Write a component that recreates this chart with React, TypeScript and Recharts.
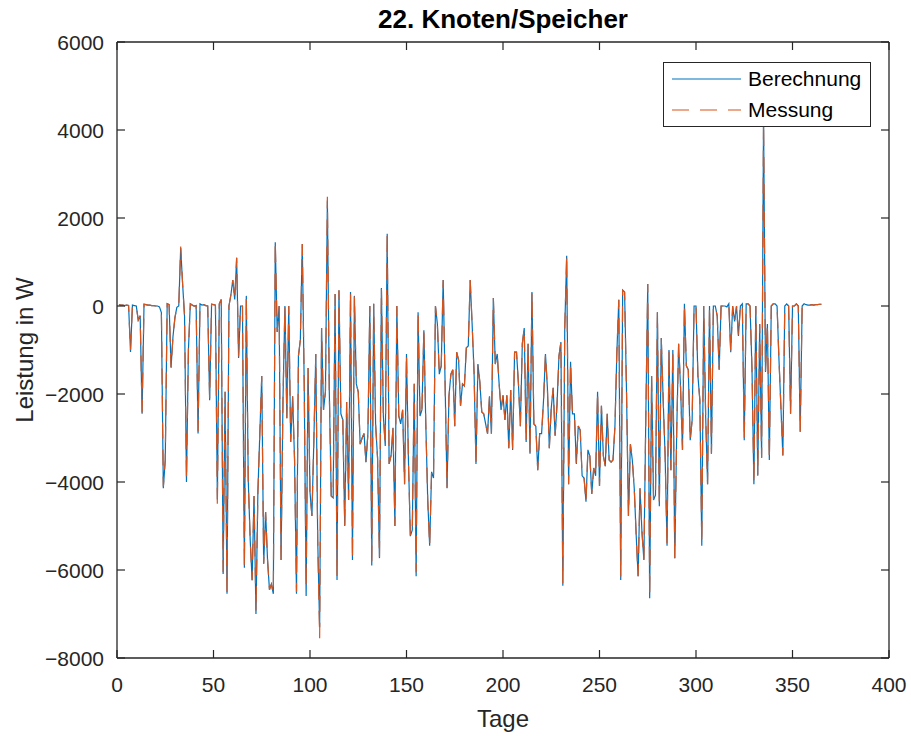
import React from 'react';
import { LineChart, Line, XAxis, YAxis } from 'recharts';

if (typeof document !== 'undefined') document.body.style.margin = '0';

const xTicks = [0, 50, 100, 150, 200, 250, 300, 350, 400];
const yTicks = [-8000, -6000, -4000, -2000, 0, 2000, 4000, 6000];

// Tag 1 .. 365
const berechnung = [
  30, 20, 20, 10, 20, 10, -1045, 20, 10, 0,
  -320, -220, -2450, 40, 30, 20, 20, 10, 10, 0,
  0, -20, -150, -4140, -3500, 50, 30, -1400, -700, -270,
  -30, 0, 1320, 500, -230, -4000, -1000, 50, 20, 0,
  10, -2900, 50, 20, 30, 10, 0, -2140, 40, 30,
  20, -4400, 50, 150, -6090, -1950, -6540, 0, 250, 590,
  150, 1090, -1180, 0, 0, -5950, 230, -3950, -5300, -6230,
  -4320, -7000, -4230, -2900, -1590, -5860, -4680, -5770, -6450, -6320,
  -6540, 1450, -590, 0, -5770, -2140, 0, -2550, 0, -3090,
  -2050, -3500, -6540, -1140, -770, 1410, -1770, -6590, -1410, -4230,
  -4770, -3050, -1090, -5320, -7300, -500, -2360, -1950, 2400, -1950,
  -4320, -4360, 270, -6230, 360, -2450, -2590, -5000, -2180, -4410,
  320, -5770, 230, -1770, -1950, -3140, -3000, -2900, -3550, -2900,
  0, -5900, 50, -2700, -3450, -5730, 410, -2500, -3180, 1640,
  -3590, -3400, -2770, -5000, 0, -2500, -2680, -2360, -4050, -1090,
  -3500, -5230, -5090, -1770, -6140, -140, -2500, -2360, -550, -2680,
  -4410, -5450, -3770, -3910, 0, -410, -1550, -1360, 590, -1770,
  -4140, -2050, -1550, -1450, -2730, -1050, -1230, -2270, -1770, -1820,
  -950, -910, 590, -410, -1500, -3590, -1320, -1730, -2410, -2450,
  -2680, -2900, -2050, -2900, 180, -1320, -1090, -1770, -2360, -2030,
  -2590, -2030, -3230, -1910, -3270, -1050, -1050, -1770, -2730, -860,
  -500, -3090, -860, -3360, 320, -2680, -2730, -3730, -2900, -2900,
  -2140, -1090, -1860, -3230, -2320, -1860, -2950, -2230, -1140, -820,
  -6360, -500, 1140, -4050, -1270, -2450, -2450, -3590, -2730, -2820,
  -3860, -3910, -4450, -3270, -3410, -4270, -3680, -3860, -1950, -4090,
  -2270, -3410, -3640, -2450, -3500, -3550, -3500, -2730, -1050, 140,
  -6230, 360, 320, -1950, -4770, -3140, -3500, -4140, -5200, -6140,
  -4140, -5140, -5770, -2500, 500, -6640, -1590, -4410, -4300, -140,
  -4550, -730, -2140, -3400, -5450, -1000, -3730, -1000, -5730, -2860,
  -860, -1860, -3270, 50, -1360, -1450, -3050, -2590, 0, 0,
  -1590, -2140, -5450, 0, -2500, -4050, 0, -3360, 0, 0,
  -230, -1450, 0, 0, 0, -20, 50, -1050, 0, -350,
  0, -680, 0, 50, -3050, 50, 50, 0, -1410, -4050,
  0, -3860, -410, -3450, 4300, -1500, -410, -3500, 0, 50,
  50, 0, -1230, -2300, -3400, 0, 50, 0, -2450, 0,
  0, 50, 0, -2860, 0, 50, 30, 20, 20, 30,
  20, 30, 30, 40, 40,
];

const messung = [
  30, 20, 20, 10, 20, 10, -1000, 20, 10, 0,
  -320, -220, -2420, 40, 30, 20, 20, 10, 10, 0,
  0, -20, -150, -4100, -3500, 50, 30, -1400, -700, -270,
  -30, 0, 1350, 500, -230, -3950, -1000, 50, 20, 0,
  10, -2850, 50, 20, 30, 10, 0, -2100, 40, 30,
  20, -4550, 50, 150, -6050, -1950, -6500, 0, 250, 590,
  150, 1100, -1150, 0, 0, -5930, 230, -3950, -5300, -6230,
  -4320, -6950, -4230, -2900, -1590, -5860, -4680, -5770, -6450, -6320,
  -6540, 1480, -590, 0, -5770, -2140, 0, -2550, 0, -3090,
  -2050, -3500, -6500, -1140, -770, 1410, -1770, -6400, -1410, -4230,
  -4770, -3050, -1090, -5320, -7550, -500, -2360, -1950, 2480, -1950,
  -4320, -4360, 270, -6150, 360, -2450, -2590, -5000, -2180, -4410,
  320, -5770, 230, -1770, -1950, -3140, -3000, -2900, -3550, -2900,
  0, -5850, 50, -2700, -3450, -5730, 410, -2500, -3180, 1660,
  -3590, -3400, -2770, -5000, 0, -2500, -2680, -2360, -4050, -1090,
  -3500, -5230, -5090, -1770, -6050, -140, -2500, -2360, -550, -2680,
  -4410, -5450, -3770, -3910, 0, -410, -1550, -1360, 590, -1770,
  -4140, -2050, -1550, -1450, -2730, -1050, -1230, -2270, -1770, -1820,
  -950, -910, 590, -410, -1500, -3590, -1320, -1730, -2410, -2450,
  -2680, -2900, -2050, -2900, 180, -1320, -1090, -1770, -2360, -2030,
  -2590, -2030, -3230, -1910, -3270, -1050, -1050, -1770, -2730, -860,
  -500, -3090, -860, -3360, 320, -2680, -2730, -3730, -2900, -2900,
  -2140, -1090, -1860, -3230, -2320, -1860, -2950, -2230, -1140, -820,
  -6300, -500, 1170, -4050, -1270, -2450, -2450, -3590, -2730, -2820,
  -3860, -3910, -4450, -3270, -3410, -4270, -3680, -3860, -1950, -4090,
  -2270, -3410, -3640, -2450, -3500, -3550, -3500, -2730, -1050, 140,
  -6150, 360, 320, -1950, -4770, -3140, -3500, -4140, -5200, -6140,
  -4140, -5140, -5770, -2500, 500, -6600, -1590, -4410, -4300, -140,
  -4550, -730, -2140, -3400, -5450, -1000, -3730, -1000, -5730, -2860,
  -860, -1860, -3270, 50, -1360, -1450, -3050, -2590, 0, 0,
  -1590, -2140, -5400, 0, -2500, -4050, 0, -3360, 0, 0,
  -230, -1450, 0, 0, 0, -20, 50, -1050, 0, -350,
  0, -680, 0, 50, -3050, 50, 50, 0, -1410, -4050,
  0, -3860, -410, -3450, 4200, -1500, -410, -3500, 0, 50,
  50, 0, -1230, -2300, -3400, 0, 50, 0, -2450, 0,
  0, 50, 0, -2860, 0, 50, 30, 20, 20, 30,
  20, 30, 30, 40, 40,
];

const data = berechnung.map((b, i) => ({ day: i + 1, b, m: messung[i] }));

const AX = '#262626';
const BLUE = '#0072BD';
const ORANGE = '#D95319';
const FONT = '"Liberation Sans", Arial, Helvetica, sans-serif';
const L = 117, R = 889, T = 42, B = 658;
const FS = 21;

const fmt = (v: number) => (v < 0 ? `\u2212${Math.abs(v)}` : `${v}`);

const BottomTick = (p: any) => (
  <g>
    <line x1={p.x} x2={p.x} y1={B} y2={B - 8} stroke={AX} strokeWidth={1.2} />
    <text x={p.x} y={B + 34} textAnchor="middle" fontSize={FS} fill={AX}>{p.payload.value}</text>
  </g>
);
const TopTick = (p: any) => (
  <line x1={p.x} x2={p.x} y1={T} y2={T + 8} stroke={AX} strokeWidth={1.2} />
);
const LeftTick = (p: any) => (
  <g>
    <line x1={L} x2={L + 8} y1={p.y} y2={p.y} stroke={AX} strokeWidth={1.2} />
    <text x={L - 13} y={p.y + 8} textAnchor="end" fontSize={FS} fill={AX}>{fmt(p.payload.value)}</text>
  </g>
);
const RightTick = (p: any) => (
  <line x1={R} x2={R - 8} y1={p.y} y2={p.y} stroke={AX} strokeWidth={1.2} />
);
const YLabel = () => (
  <text x={33} y={350} transform="rotate(-90 33 350)" textAnchor="middle" fontSize={24} fill={AX}>
    Leistung in W
  </text>
);
const XLabel = () => (
  <text x={503} y={727} textAnchor="middle" fontSize={24} fill={AX}>Tage</text>
);

export default function App() {
  return (
    <div style={{ position: 'relative', width: 911, height: 736, background: '#fff', fontFamily: FONT }}>
      <LineChart width={911} height={736} data={data} margin={{ top: T - 1, right: 911 - R - 1, bottom: 0, left: 0 }}>
        <XAxis dataKey="day" type="number" domain={[0, 400]} ticks={xTicks} interval={0} height={736 - B}
          axisLine={{ stroke: AX, strokeWidth: 1.3 }} tickLine={false} tick={<BottomTick />} label={<XLabel />} />
        <XAxis xAxisId="top" dataKey="day" type="number" orientation="top" domain={[0, 400]} ticks={xTicks} interval={0} height={1}
          axisLine={{ stroke: AX, strokeWidth: 1.3 }} tickLine={false} tick={<TopTick />} />
        <YAxis type="number" domain={[-8000, 6000]} ticks={yTicks} interval={0} width={L}
          axisLine={{ stroke: AX, strokeWidth: 1.3 }} tickLine={false} tick={<LeftTick />} label={<YLabel />} />
        <YAxis yAxisId="right" type="number" orientation="right" domain={[-8000, 6000]} ticks={yTicks} interval={0} width={1}
          axisLine={{ stroke: AX, strokeWidth: 1.3 }} tickLine={false} tick={<RightTick />} />
        <Line type="linear" dataKey="b" name="Berechnung" stroke={BLUE} strokeWidth={1.2} dot={false} isAnimationActive={false} />
        <Line xAxisId="top" yAxisId="right" type="linear" dataKey="m" name="Messung" stroke={ORANGE} strokeWidth={1.2}
          strokeDasharray="16 11" dot={false} isAnimationActive={false} />
      </LineChart>
      <div style={{ position: 'absolute', left: 0, width: 1006, top: 4, textAlign: 'center', fontSize: 26, fontWeight: 'bold', color: '#000', lineHeight: '30px' }}>
        22. Knoten/Speicher
      </div>
      <div style={{ position: 'absolute', left: 663, top: 62, width: 206, height: 63, border: `1px solid ${AX}`, background: '#fff', fontSize: FS, color: '#000' }}>
        <svg width={80} height={63} style={{ position: 'absolute', left: 0, top: 0 }}>
          <line x1={8} x2={77} y1={16} y2={16} stroke={BLUE} strokeWidth={1.2} />
          <line x1={8} x2={77} y1={47} y2={47} stroke={ORANGE} strokeWidth={1.2} strokeDasharray="17 11" />
        </svg>
        <div style={{ position: 'absolute', left: 84, top: 3, lineHeight: '26px' }}>Berechnung</div>
        <div style={{ position: 'absolute', left: 84, top: 34, lineHeight: '26px' }}>Messung</div>
      </div>
    </div>
  );
}
